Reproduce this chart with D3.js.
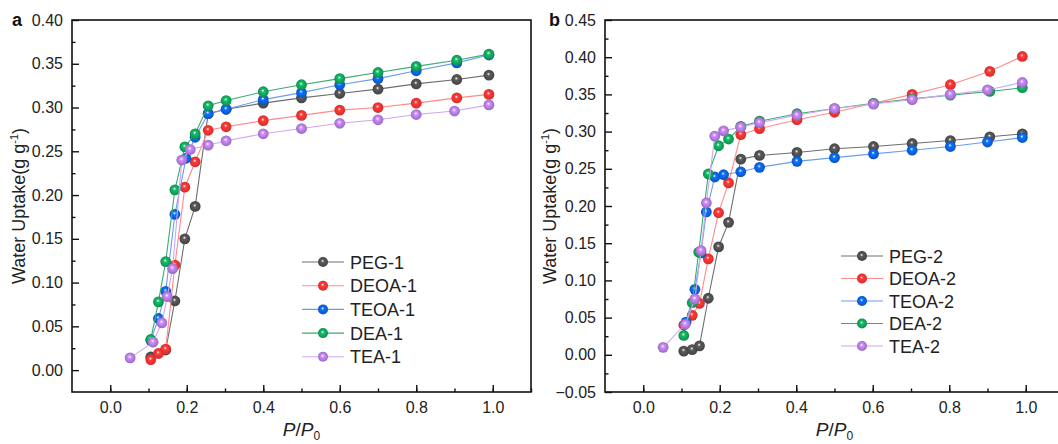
<!DOCTYPE html>
<html>
<head>
<meta charset="utf-8">
<script src="https://cdnjs.cloudflare.com/ajax/libs/d3/7.8.5/d3.min.js"></script>
<style>
  body { margin: 0; background: #fff; }
  svg { font-family: "Liberation Sans", Arial, sans-serif; }
</style>
</head>
<body>
<div id="chart"></div>
<script>
// ---- data ----
const xTicks = [0.0, 0.2, 0.4, 0.6, 0.8, 1.0];
const yTicksA = [0.00, 0.05, 0.10, 0.15, 0.20, 0.25, 0.30, 0.35, 0.40];
const yTicksB = [-0.05, 0.00, 0.05, 0.10, 0.15, 0.20, 0.25, 0.30, 0.35, 0.40, 0.45];

const seriesNames = ["PEG", "DEOA", "TEOA", "DEA", "TEA"];

// panel a
const peg1 = [[0.106,0.015],[0.145,0.023],[0.169,0.079],[0.195,0.150],[0.222,0.187],[0.256,0.293],[0.303,0.298],[0.40,0.305],[0.50,0.311],[0.60,0.316],[0.70,0.321],[0.80,0.327],[0.906,0.332],[0.99,0.337]];
const deoa1 = [[0.106,0.012],[0.126,0.019],[0.145,0.024],[0.169,0.120],[0.195,0.209],[0.222,0.238],[0.256,0.274],[0.303,0.278],[0.40,0.285],[0.50,0.291],[0.60,0.297],[0.70,0.300],[0.80,0.305],[0.906,0.311],[0.99,0.315]];
const teoa1 = [[0.106,0.034],[0.126,0.059],[0.145,0.090],[0.169,0.178],[0.198,0.242],[0.222,0.266],[0.256,0.293],[0.303,0.298],[0.40,0.309],[0.50,0.317],[0.60,0.326],[0.70,0.333],[0.80,0.342],[0.906,0.351],[0.99,0.360]];
const dea1 = [[0.106,0.035],[0.126,0.078],[0.145,0.124],[0.169,0.206],[0.195,0.255],[0.222,0.270],[0.256,0.302],[0.303,0.308],[0.40,0.318],[0.50,0.326],[0.60,0.333],[0.70,0.340],[0.80,0.347],[0.906,0.354],[0.99,0.361]];
const tea1 = [[0.052,0.014],[0.112,0.032],[0.135,0.054],[0.149,0.084],[0.163,0.116],[0.187,0.240],[0.209,0.252],[0.256,0.257],[0.303,0.262],[0.40,0.270],[0.50,0.276],[0.60,0.282],[0.70,0.286],[0.80,0.292],[0.90,0.296],[0.99,0.303]];

// panel b
const peg2 = [[0.106,0.005],[0.128,0.007],[0.147,0.012],[0.170,0.076],[0.197,0.145],[0.223,0.178],[0.255,0.263],[0.304,0.268],[0.402,0.272],[0.50,0.277],[0.602,0.280],[0.703,0.284],[0.803,0.288],[0.906,0.293],[0.991,0.297]];
const deoa2 = [[0.106,0.040],[0.128,0.053],[0.147,0.069],[0.170,0.129],[0.197,0.191],[0.223,0.231],[0.255,0.296],[0.304,0.304],[0.402,0.316],[0.50,0.326],[0.602,0.338],[0.703,0.350],[0.803,0.363],[0.906,0.381],[0.991,0.401]];
const teoa2 = [[0.112,0.044],[0.135,0.088],[0.151,0.137],[0.165,0.192],[0.187,0.239],[0.210,0.242],[0.255,0.246],[0.304,0.252],[0.402,0.260],[0.50,0.265],[0.602,0.270],[0.703,0.275],[0.803,0.280],[0.90,0.286],[0.991,0.292]];
const dea2 = [[0.106,0.026],[0.128,0.070],[0.145,0.138],[0.170,0.243],[0.197,0.281],[0.223,0.290],[0.255,0.307],[0.304,0.314],[0.402,0.324],[0.50,0.331],[0.602,0.338],[0.703,0.344],[0.803,0.349],[0.906,0.354],[0.991,0.359]];
const tea2 = [[0.052,0.010],[0.110,0.041],[0.135,0.075],[0.151,0.140],[0.165,0.204],[0.187,0.294],[0.210,0.301],[0.255,0.306],[0.304,0.312],[0.402,0.322],[0.50,0.331],[0.602,0.337],[0.703,0.343],[0.803,0.350],[0.90,0.356],[0.991,0.366]];

// marker colour, line colour per series
const markerColors = ["#4a4a4a", "#f2302e", "#0a5cd6", "#109a55", "#a873d6"];
const lineColors = ["#6e6e6e", "#ff8a8a", "#6c9cf0", "#3aaa74", "#cfa6f0"];

const W = 1058, H = 444;
const svg = d3.select("#chart").append("svg")
    .attr("width", W)
    .attr("height", H);

// ball-like markers
const defs = svg.append("defs");
markerColors.forEach((c, i) => {
    const g = defs.append("radialGradient")
        .attr("id", "ball" + i)
        .attr("cx", "50%").attr("cy", "50%").attr("r", "55%")
        .attr("fx", "45%").attr("fy", "38%");
    g.append("stop").attr("offset", "0%").attr("stop-color", "#ffffff");
    g.append("stop").attr("offset", "28%").attr("stop-color", d3.color(c).brighter(0.6));
    g.append("stop").attr("offset", "100%").attr("stop-color", d3.color(c).darker(0.4));
});

function drawPanel(opts) {
    const g = svg.append("g");

    const x = d3.scaleLinear().domain([-0.1, 1.1]).range([opts.left, opts.left + 459]);
    const y = d3.scaleLinear().domain(opts.yDomain).range([392, 20]);

    // frame
    g.append("rect")
        .attr("x", x.range()[0]).attr("y", 20)
        .attr("width", 459).attr("height", 372)
        .attr("fill", "none").attr("stroke", "#111").attr("stroke-width", 1.6);

    // x axis, ticks inward
    const xMinor = d3.range(0, 1.101, 0.1).map(v => +v.toFixed(1));
    g.append("g")
        .attr("transform", "translate(0,392)")
        .call(d3.axisBottom(x).tickValues(xMinor).tickSize(-3.5).tickFormat(""))
        .call(a => a.select(".domain").remove())
        .call(a => a.selectAll("line").attr("stroke", "#111").attr("stroke-width", 1.4));
    g.append("g")
        .attr("transform", "translate(0,392)")
        .call(d3.axisBottom(x).tickValues(xTicks).tickSize(-7).tickPadding(10).tickFormat(d3.format(".1f")))
        .call(a => a.select(".domain").remove())
        .call(a => a.selectAll("line").attr("stroke", "#111").attr("stroke-width", 1.4))
        .call(a => a.selectAll("text").attr("font-size", 16).attr("fill", "#222")
            .attr("font-family", "Liberation Sans, Arial, sans-serif"));

    // y axis, ticks inward
    const yMinor = opts.yTicks.slice(0, -1).map(v => v + 0.025);
    g.append("g")
        .attr("transform", `translate(${x.range()[0]},0)`)
        .call(d3.axisLeft(y).tickValues(yMinor).tickSize(-3.5).tickFormat(""))
        .call(a => a.select(".domain").remove())
        .call(a => a.selectAll("line").attr("stroke", "#111").attr("stroke-width", 1.4));
    g.append("g")
        .attr("transform", `translate(${x.range()[0]},0)`)
        .call(d3.axisLeft(y).tickValues(opts.yTicks).tickSize(-7).tickPadding(9).tickFormat(d3.format(".2f")))
        .call(a => a.select(".domain").remove())
        .call(a => a.selectAll("line").attr("stroke", "#111").attr("stroke-width", 1.4))
        .call(a => a.selectAll("text").attr("font-size", 16).attr("fill", "#222")
            .attr("font-family", "Liberation Sans, Arial, sans-serif"));

    // axis titles
    const yt = g.append("text")
        .attr("transform", `translate(${opts.titleX},${206}) rotate(-90)`)
        .attr("text-anchor", "middle")
        .attr("font-size", 18).attr("fill", "#222");
    yt.append("tspan").text("Water Uptake(g g");
    yt.append("tspan").attr("dy", -7).attr("font-size", 11).text("-1");
    yt.append("tspan").attr("dy", 7).text(")");

    const xt = g.append("text")
        .attr("x", x(0.5)).attr("y", 436)
        .attr("text-anchor", "middle")
        .attr("font-size", 19).attr("font-style", "italic").attr("fill", "#222");
    xt.append("tspan").text("P");
    xt.append("tspan").attr("font-style", "normal").text("/");
    xt.append("tspan").text("P");
    xt.append("tspan").attr("dy", 4).attr("font-size", 12).attr("font-style", "normal").text("0");

    // panel letter
    g.append("text")
        .attr("x", opts.letterX).attr("y", 26)
        .attr("font-size", 18).attr("font-weight", "bold").attr("fill", "#111")
        .text(opts.letter);

    // series
    const line = d3.line().x(d => x(d[0])).y(d => y(d[1]));
    opts.series.forEach((s, i) => {
        g.append("path")
            .datum(s)
            .attr("d", line)
            .attr("fill", "none")
            .attr("stroke", lineColors[i])
            .attr("stroke-width", 1.1);
        g.selectAll(".pt" + i)
            .data(s)
            .join("circle")
            .attr("cx", d => x(d[0]))
            .attr("cy", d => y(d[1]))
            .attr("r", 5.4)
            .attr("fill", `url(#ball${i})`);
    });

    // legend
    const lg = g.append("g").attr("transform", `translate(${opts.legendX},${opts.legendY})`);
    seriesNames.forEach((n, i) => {
        const row = lg.append("g").attr("transform", `translate(0,${i * opts.legendStep})`);
        row.append("line")
            .attr("x1", 0).attr("x2", 42)
            .attr("stroke", lineColors[i]).attr("stroke-width", 1.1);
        row.append("circle").attr("cx", 21).attr("r", 5).attr("fill", `url(#ball${i})`);
        row.append("text")
            .attr("x", 48).attr("y", 6.5)
            .attr("font-size", 18).attr("fill", "#222")
            .text(n + "-" + opts.suffix);
    });
}

drawPanel({
    left: 72, yDomain: [-0.025, 0.40], yTicks: yTicksA,
    series: [peg1, deoa1, teoa1, dea1, tea1],
    titleX: 25, letter: "a", letterX: 12,
    legendX: 302, legendY: 262, legendStep: 23.7, suffix: "1"
});

drawPanel({
    left: 605, yDomain: [-0.05, 0.45], yTicks: yTicksB,
    series: [peg2, deoa2, teoa2, dea2, tea2],
    titleX: 556, letter: "b", letterX: 549,
    legendX: 841, legendY: 256, legendStep: 22.5, suffix: "2"
});
</script>
</body>
</html>
